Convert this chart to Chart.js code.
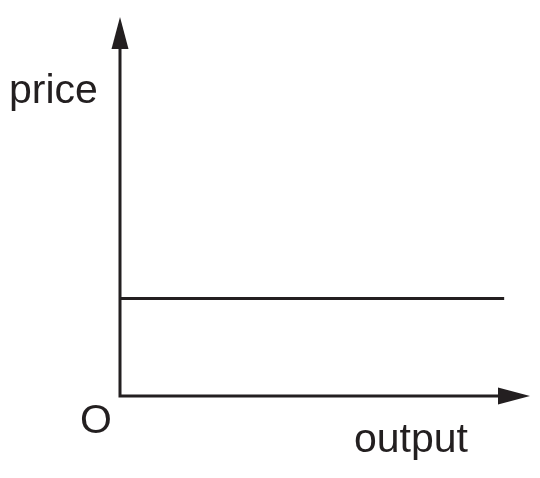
<!DOCTYPE html>
<html>
<head>
<meta charset="utf-8">
<script src="https://cdn.jsdelivr.net/npm/chart.js@4"></script>
<style>
  html, body { margin: 0; padding: 0; background: #fff; }
  canvas { display: block; }
</style>
</head>
<body>
<canvas id="chart" width="540" height="478"></canvas>
<script>
// axis extents (value units)
const xAxisMax = 10;
const yAxisMax = 10;

// the flat price line
const outputLevels = [0, 9.37];
const priceLevels = [2.57, 2.57];

const ink = "#231f20";

// draws the two arrowed axes and the labels
const axesPlugin = {
  id: "axes",
  afterDatasetsDraw(chart) {
    const ctx = chart.ctx;
    const xs = chart.scales.x;
    const ys = chart.scales.y;
    const x0 = xs.getPixelForValue(0);
    const y0 = ys.getPixelForValue(0);
    const xEnd = xs.getPixelForValue(xAxisMax);
    const yEnd = ys.getPixelForValue(yAxisMax);
    const headLen = 32;
    const headHalf = 8.5;

    ctx.save();
    ctx.strokeStyle = ink;
    ctx.fillStyle = ink;
    ctx.lineWidth = 3;
    ctx.lineCap = "square";

    ctx.beginPath();
    ctx.moveTo(x0, y0);
    ctx.lineTo(x0, yEnd + headLen);
    ctx.moveTo(x0, y0);
    ctx.lineTo(xEnd - headLen, y0);
    ctx.stroke();

    // y arrow head
    ctx.beginPath();
    ctx.moveTo(x0, yEnd);
    ctx.lineTo(x0 - headHalf, yEnd + headLen);
    ctx.lineTo(x0 + headHalf, yEnd + headLen);
    ctx.closePath();
    ctx.fill();

    // x arrow head
    ctx.beginPath();
    ctx.moveTo(xEnd, y0);
    ctx.lineTo(xEnd - headLen, y0 - headHalf);
    ctx.lineTo(xEnd - headLen, y0 + headHalf);
    ctx.closePath();
    ctx.fill();

    ctx.font = '41px "Liberation Sans", Arial, sans-serif';
    ctx.textBaseline = "alphabetic";
    ctx.textAlign = "left";
    ctx.fillText("price", 9, 103);
    ctx.fillText("O", 80, 433);
    ctx.fillText("output", 354, 452);
    ctx.restore();
  }
};

const ctx = document.getElementById("chart").getContext("2d");
const chart = new Chart(ctx, {
  type: "line",
  data: {
    datasets: [{
      data: outputLevels.map((v, i) => ({ x: v, y: priceLevels[i] })),
      borderColor: ink,
      borderWidth: 3,
      pointRadius: 0,
      fill: false,
      tension: 0
    }]
  },
  options: {
    responsive: false,
    animation: false,
    events: [],
    layout: { padding: { left: 120, right: 10, top: 17, bottom: 82 } },
    plugins: { legend: { display: false }, tooltip: { enabled: false } },
    scales: {
      x: { type: "linear", min: 0, max: xAxisMax, display: false },
      y: { type: "linear", min: 0, max: yAxisMax, display: false }
    }
  },
  plugins: [axesPlugin]
});
</script>
</body>
</html>
